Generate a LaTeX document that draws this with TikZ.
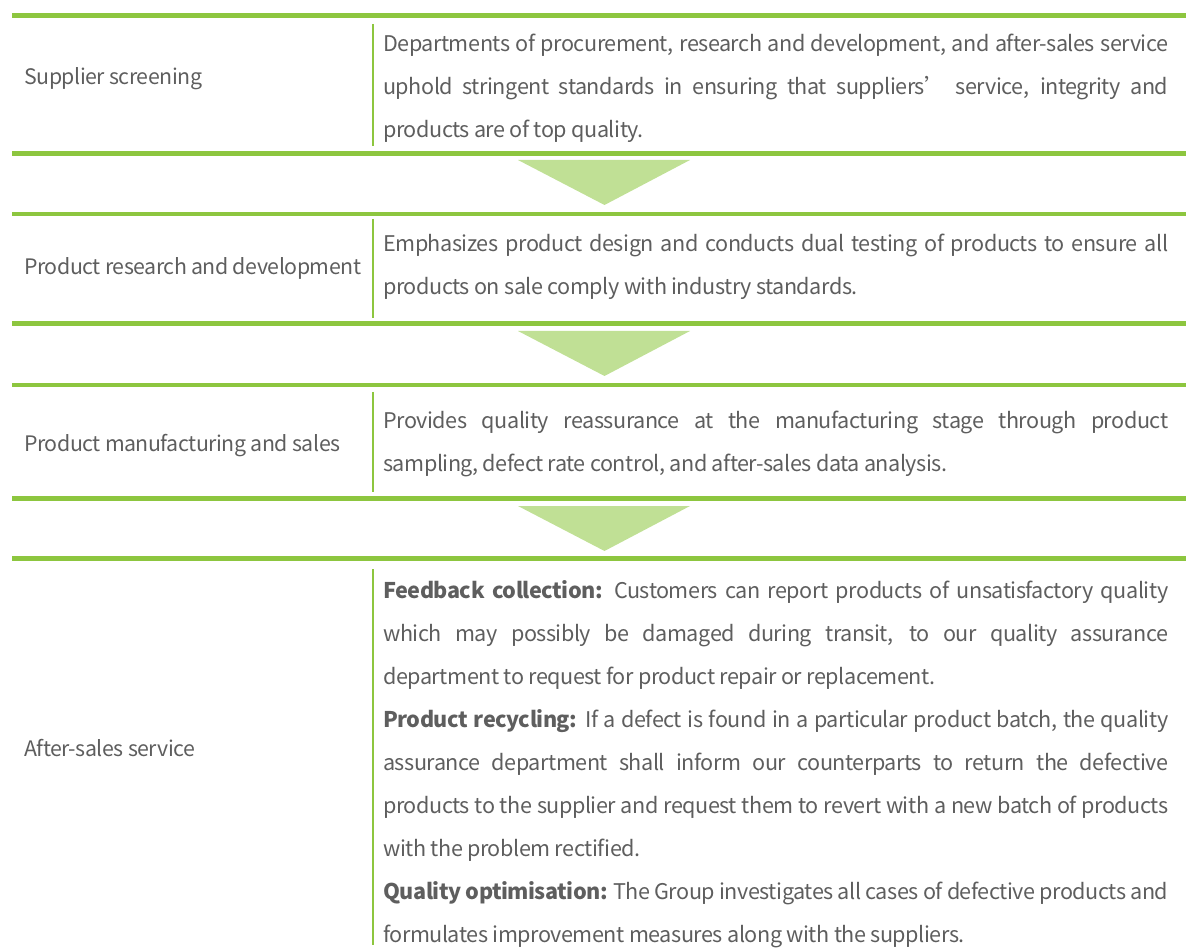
\documentclass[tikz,border=0pt]{standalone}
\usepackage{fontspec}
\setmainfont{Noto Sans CJK SC}[LetterSpace=-2.2]
\definecolor{lg}{HTML}{8DC63F}
\definecolor{tri}{HTML}{C0E095}
\definecolor{txt}{HTML}{5E5E5E}
\newcommand{\jl}[1]{\makebox[588.75pt][s]{#1}}
\begin{document}
\begin{tikzpicture}[x=0.75pt,y=-0.75pt,
  rule/.style={draw=lg, line width=3.4pt},
  vsep/.style={draw=lg, line width=1.9pt},
  arrowtri/.style={fill=tri, draw=none},
  lbl/.style={anchor=base west, inner sep=0pt, text=txt, font=\fontsize{16}{20}\selectfont},
  body/.style={anchor=base west, inner sep=0pt, text=txt, font=\fontsize{16.2}{20}\selectfont}]
\useasboundingbox (0,0) rectangle (1186,952);
% horizontal rules
\foreach \y in {15.5,153.5,214,323.5,385,498.5,558.5}
  \draw[rule] (12,\y) -- (1186,\y);
% vertical separators
\draw[vsep] (373,24) -- (373,146);
\draw[vsep] (373,219) -- (373,318);
\draw[vsep] (373,392) -- (373,492);
\draw[vsep] (373,569) -- (373,945);
% triangles
\foreach \t in {160,331,506}
  \fill[arrowtri] (518,\t) -- (690,\t) -- (604.5,\t+45) -- cycle;
% left labels
\node[lbl] (s1) at (24,85) {Supplier screening};
\node[lbl] (s2) at (24,275) {Product research and development};
\node[lbl] (s3) at (24,451) {Product manufacturing and sales};
\node[lbl] (s4) at (24,756) {After-sales service};
% row 1
\node[body] (a1) at (383,52) {\jl{Departments of procurement, research and development, and after-sales service}};
\node[body] (a2) at (383,95) {\jl{uphold stringent standards in ensuring that suppliers’ service, integrity and}};
\node[body] (a3) at (383,138) {products are of top quality.};
% row 2
\node[body] (b1) at (383,252) {\jl{Emphasizes product design and conducts dual testing of products to ensure all}};
\node[body] (b2) at (383,295) {products on sale comply with industry standards.};
% row 3
\node[body] (c1) at (383,428) {\jl{Provides quality reassurance at the manufacturing stage through product}};
\node[body] (c2) at (383,471) {sampling, defect rate control, and after-sales data analysis.};
% row 4
\node[body] (d1) at (383,598) {\jl{\textbf{Feedback collection:} Customers can report products of unsatisfactory quality}};
\node[body] (d2) at (383,641) {\jl{which may possibly be damaged during transit, to our quality assurance}};
\node[body] (d3) at (383,684) {department to request for product repair or replacement.};
\node[body] (d4) at (383,727) {\jl{\textbf{Product recycling:} If a defect is found in a particular product batch, the quality}};
\node[body] (d5) at (383,770) {\jl{assurance department shall inform our counterparts to return the defective}};
\node[body] (d6) at (383,813) {\jl{products to the supplier and request them to revert with a new batch of products}};
\node[body] (d7) at (383,856) {with the problem rectified.};
\node[body] (d8) at (383,899) {\jl{\textbf{Quality optimisation:} The Group investigates all cases of defective products and}};
\node[body] (d9) at (383,942) {formulates improvement measures along with the suppliers.};
\end{tikzpicture}
\end{document}
